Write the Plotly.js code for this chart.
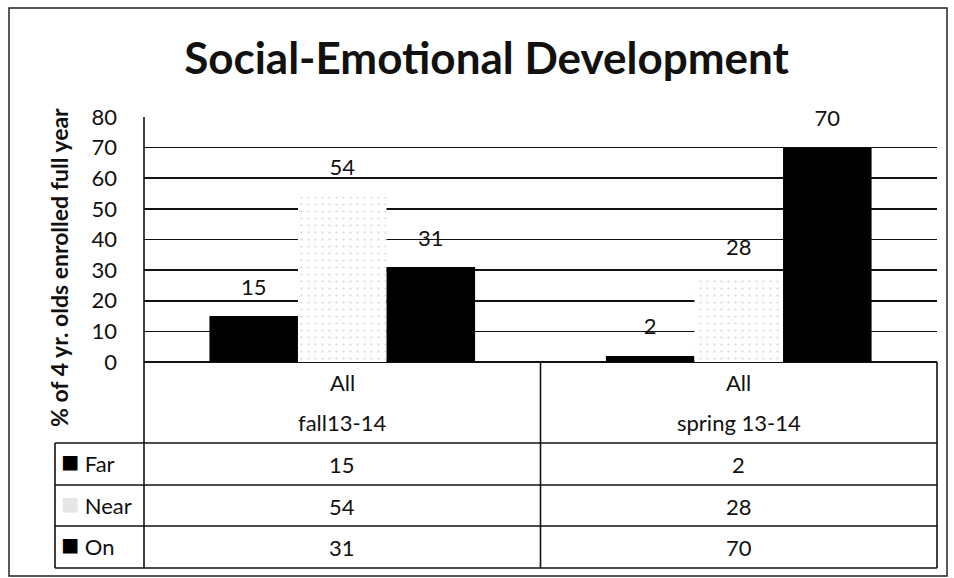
<!DOCTYPE html>
<html><head><meta charset="utf-8">
<script src="https://cdn.plot.ly/plotly-3.0.1.min.js"></script>
<style>body{margin:0;background:#fff}#c{width:954px;height:578px}</style>
</head><body><div id="c"></div>
<script>
const categories = ["fall13-14", "spring 13-14"];
const groupTop = ["All", "All"];
const seriesNames = ["Far", "Near", "On"];
const farValues = [15, 2];
const nearValues = [54, 28];
const onValues = [31, 70];
const yTicks = [0, 10, 20, 30, 40, 50, 60, 70, 80];

const FONT = "Lato, 'Open Sans', sans-serif";
const seriesValues = [farValues, nearValues, onValues];
const seriesColors = ["#000000", "#ffffff", "#000000"];
const TXT = {family: FONT, size: 22, color: "#111"};

const bars = seriesNames.map((n, i) => ({
  type: "bar", name: n, x: categories, y: seriesValues[i], offsetgroup: n,
  marker: i === 1
    ? {color: "#ffffff", line: {width: 0}, pattern: {shape: ".", fgcolor: "#d8d8d8", bgcolor: "#ffffff", size: 7, solidity: 0.08}}
    : {color: seriesColors[i], line: {width: 0}},
  showlegend: false, hoverinfo: "skip"
}));
const labels = seriesNames.map((n, i) => ({
  type: "scatter", mode: "markers+text", name: n + " label", x: categories, y: seriesValues[i], offsetgroup: n,
  text: seriesValues[i].map(String), textposition: "top center", textfont: TXT,
  marker: {size: 24, color: "rgba(0,0,0,0)"}, cliponaxis: false,
  showlegend: false, hoverinfo: "skip"
}));

// table geometry in paper coords (plot area: x 144..937, y 117..362)
const py = px => (362 - px) / 245;
const pxx = px => (px - 144) / 793;
const L = "#111", LW = 1.6;
const shapes = [];
const hline = (x0, x1, y) => shapes.push({type: "line", xref: "paper", yref: "paper", x0, x1, y0: y, y1: y, line: {color: L, width: LW}});
const vline = (x, y0, y1, xref) => shapes.push({type: "line", xref: xref || "paper", yref: "paper", x0: x, x1: x, y0, y1, line: {color: L, width: LW}});
const rowLines = [443, 485, 526, 568].map(py);
rowLines.forEach(y => hline(pxx(55), 1, y));
vline(0, 1, rowLines[3]);
vline(1, 0, rowLines[3]);
vline(0.5, 0, rowLines[3], "x");
vline(pxx(55), rowLines[0], rowLines[3]);
// outer frame
shapes.push({type: "rect", xref: "paper", yref: "paper", x0: pxx(9), x1: pxx(947), y0: py(8), y1: py(576), line: {color: "#222", width: 1.5}});

const annotations = [];
categories.forEach((c, j) => {
  annotations.push({xref: "x", yref: "paper", x: c, y: py(382), yanchor: "middle", text: groupTop[j], showarrow: false, font: TXT});
  annotations.push({xref: "x", yref: "paper", x: c, y: py(423), yanchor: "middle", text: c, showarrow: false, font: TXT});
});
const rowCenters = [464, 506, 547].map(py);
const keyColors = ["#000", "#e6e6e6", "#000"];
seriesNames.forEach((n, i) => {
  annotations.push({xref: "paper", yref: "paper", x: pxx(59), y: rowCenters[i], xanchor: "left", yanchor: "middle", yshift: 4,
    text: '<span style="color:' + keyColors[i] + ';font-size:30px">■</span> ' + n, showarrow: false, font: TXT});
  categories.forEach((c, j) => {
    annotations.push({xref: "x", yref: "paper", x: c, y: rowCenters[i], yanchor: "middle", text: String(seriesValues[i][j]), showarrow: false, font: TXT});
  });
});
annotations.push({xref: "paper", yref: "paper", x: pxx(59), y: py(268), xanchor: "center", yanchor: "middle", textangle: -90,
  text: "<b>% of 4 yr. olds enrolled full year</b>", showarrow: false, font: {family: FONT, size: 23, color: "#111"}});

const layout = {
  width: 954, height: 578,
  margin: {l: 144, r: 17, t: 117, b: 216},
  paper_bgcolor: "#fff", plot_bgcolor: "#fff",
  title: {text: "<b>Social-Emotional Development</b>", x: 0.51, xref: "container", y: 1 - 59/578, yref: "container", yanchor: "middle",
    font: {family: FONT, size: 44, color: "#111"}},
  barmode: "group", bargap: 0.33, bargroupgap: 0,
  scattermode: "group", scattergap: 0.33,
  xaxis: {type: "category", range: [-0.5, 1.5], showticklabels: false, showgrid: false, zeroline: false, showline: false, ticks: ""},
  yaxis: {range: [0, 80], tickvals: yTicks, ticktext: yTicks.map(String), showgrid: true, gridcolor: L, gridwidth: LW,
    zeroline: true, zerolinecolor: L, zerolinewidth: LW, showline: false, ticks: "", ticklabelstandoff: 26,
    tickfont: TXT},
  shapes, annotations,
  showlegend: false
};
Plotly.newPlot("c", bars.concat(labels), layout, {staticPlot: true});
</script></body></html>
